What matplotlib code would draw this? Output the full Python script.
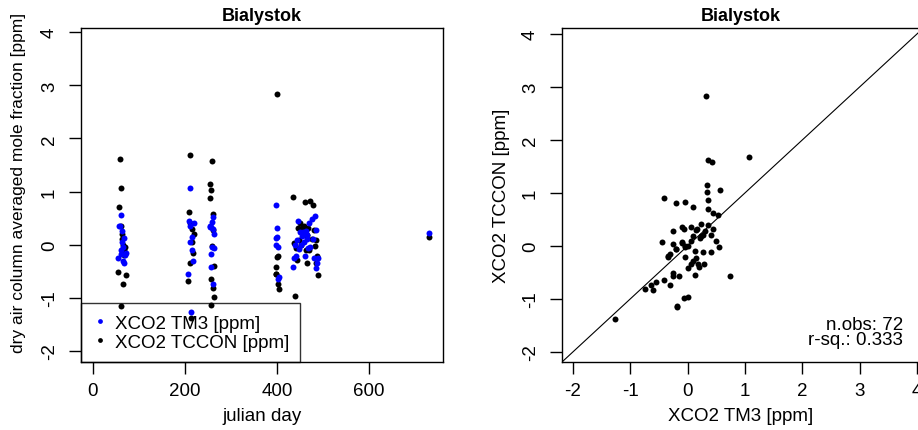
import numpy as np
import matplotlib
matplotlib.use("Agg")
import matplotlib.pyplot as plt

plt.rcParams['font.family'] = ['Liberation Sans', 'DejaVu Sans']
plt.rcParams['axes.unicode_minus'] = False

# observations: julian day, model (TM3) and measured (TCCON) anomalies [ppm]
julian_day = [
    58, 60, 57, 62, 64, 66, 68, 70, 55, 72, 65, 60, 63, 67,
    210, 208, 212, 215, 218, 206, 214, 220, 211, 216,
    258, 255, 257, 254, 260, 262, 259, 256, 261, 263, 257, 264,
    400, 398, 401, 399, 402, 404, 397, 403,
    435, 462, 472, 478, 445, 450, 455, 458, 465, 468, 480, 485, 438, 442,
    448, 452, 457, 463, 470, 476, 482, 488, 439, 444, 466, 484, 490,
    730,
]
xco2_tm3 = [
    0.35, 0.56, 0.35, -0.10, 0.05, -0.05, 0.12, -0.20, -0.25, -0.15, -0.30, -0.18, 0.26, -0.35,
    1.07, 0.45, 0.36, 0.15, -0.30, -0.55, -1.26, 0.40, 0.05, -0.10,
    0.42, 0.33, 0.33, 0.35, 0.53, 0.30, -0.04, -0.42, -0.74, -0.07, -0.18, 0.20,
    0.32, 0.74, 0.15, 0.00, -0.64, -0.61, 0.12, -0.05,
    -0.42, -0.21, -0.04, 0.10, 0.44, 0.23, 0.17, 0.05, 0.10, -0.07, -0.25, -0.44, -0.26, -0.21,
    -0.09, 0.00, 0.23, 0.26, 0.40, 0.49, 0.54, -0.35, 0.00, 0.09, 0.18, 0.28, -0.26,
    0.22,
]
xco2_tccon = [
    1.62, 1.06, 0.70, 0.35, 0.10, 0.00, -0.10, -0.05, -0.51, -0.57, -0.74, -1.15, 0.20, -0.20,
    1.68, 0.62, 0.40, 0.30, -0.15, -0.68, -1.38, 0.20, -0.35, 0.05,
    1.58, 1.15, 1.02, 0.87, 0.58, 0.28, -0.02, -0.64, -0.81, -0.98, -1.13, -0.40,
    2.83, -0.56, -0.23, -0.42, -0.74, -0.83, -0.55, -0.21,
    0.90, 0.80, 0.82, 0.74, 0.32, 0.41, 0.32, 0.36, 0.19, 0.32, 0.28, 0.08, 0.04, -0.06,
    0.08, 0.00, 0.19, -0.11, -0.11, 0.10, -0.02, -0.21, -0.96, -0.28, -0.34, -0.34, -0.57,
    0.15,
]
station = "Bialystok"
n_obs = 72
r_sq = 0.333

FS = 13.5
fig = plt.figure(figsize=(9.18, 4.31), dpi=100)
ax1 = fig.add_axes([81 / 918, 68 / 431, 362 / 918, 334 / 431])
ax2 = fig.add_axes([562 / 918, 68 / 431, 358 / 918, 334 / 431])

# left: time series
ax1.plot(julian_day, xco2_tccon, 'o', color='black', markersize=4.3, markeredgewidth=0,
         label='XCO2 TCCON [ppm]')
ax1.plot(julian_day, xco2_tm3, 'o', color='blue', markersize=4.3, markeredgewidth=0,
         label='XCO2 TM3 [ppm]')
ax1.set_xlim(-26, 761)
ax1.set_ylim(-2.21, 4.08)
ax1.set_xticks([0, 200, 400, 600])
ax1.set_yticks(range(-2, 5))
ax1.set_xlabel('julian day', fontsize=FS, labelpad=5.5)
ax1.set_ylabel('dry air column averaged mole fraction [ppm]', fontsize=12.5)
ax1.yaxis.set_label_coords(-0.153, 0.54)
ax1.set_title(station, fontsize=13, fontweight='bold', pad=6)
handles, labels = ax1.get_legend_handles_labels()
leg = ax1.legend(handles[::-1], labels[::-1], loc='lower left', borderaxespad=0,
                 fancybox=False, edgecolor='black', facecolor='none',
                 fontsize=FS, handletextpad=0.4, handlelength=0.8, borderpad=0.6,
                 labelspacing=0.1, markerscale=0.8)
leg.get_frame().set_linewidth(1.0)

# right: scatter with 1:1 line
ax2.plot(xco2_tm3, xco2_tccon, 'o', color='black', markersize=4.3, markeredgewidth=0)
ax2.plot([-3, 5], [-3, 5], color='black', linewidth=0.8)
ax2.set_xlim(-2.19, 4.05)
ax2.set_ylim(-2.19, 4.11)
ax2.set_xticks(range(-2, 5))
ax2.set_yticks(range(-2, 5))
ax2.set_xlabel('XCO2 TM3 [ppm]', fontsize=FS, labelpad=5.5)
ax2.set_ylabel('XCO2 TCCON [ppm]', fontsize=FS, labelpad=9)
ax2.set_title(station, fontsize=13, fontweight='bold', pad=6)
ax2.text(0.9525, 0.09, f'n.obs: {n_obs}\nr-sq.: {r_sq}', transform=ax2.transAxes,
         ha='right', va='center', fontsize=FS, linespacing=0.85)

for ax in (ax1, ax2):
    ax.tick_params(axis='both', direction='out', length=8.5, width=1, labelsize=FS)
    ax.tick_params(axis='x', pad=6)
    ax.tick_params(axis='y', pad=8)
    for lab in ax.get_yticklabels():
        lab.set_rotation(90)
        lab.set_va('center')
    for s in ax.spines.values():
        s.set_linewidth(1.0)

fig.savefig('out.png', dpi=100)
